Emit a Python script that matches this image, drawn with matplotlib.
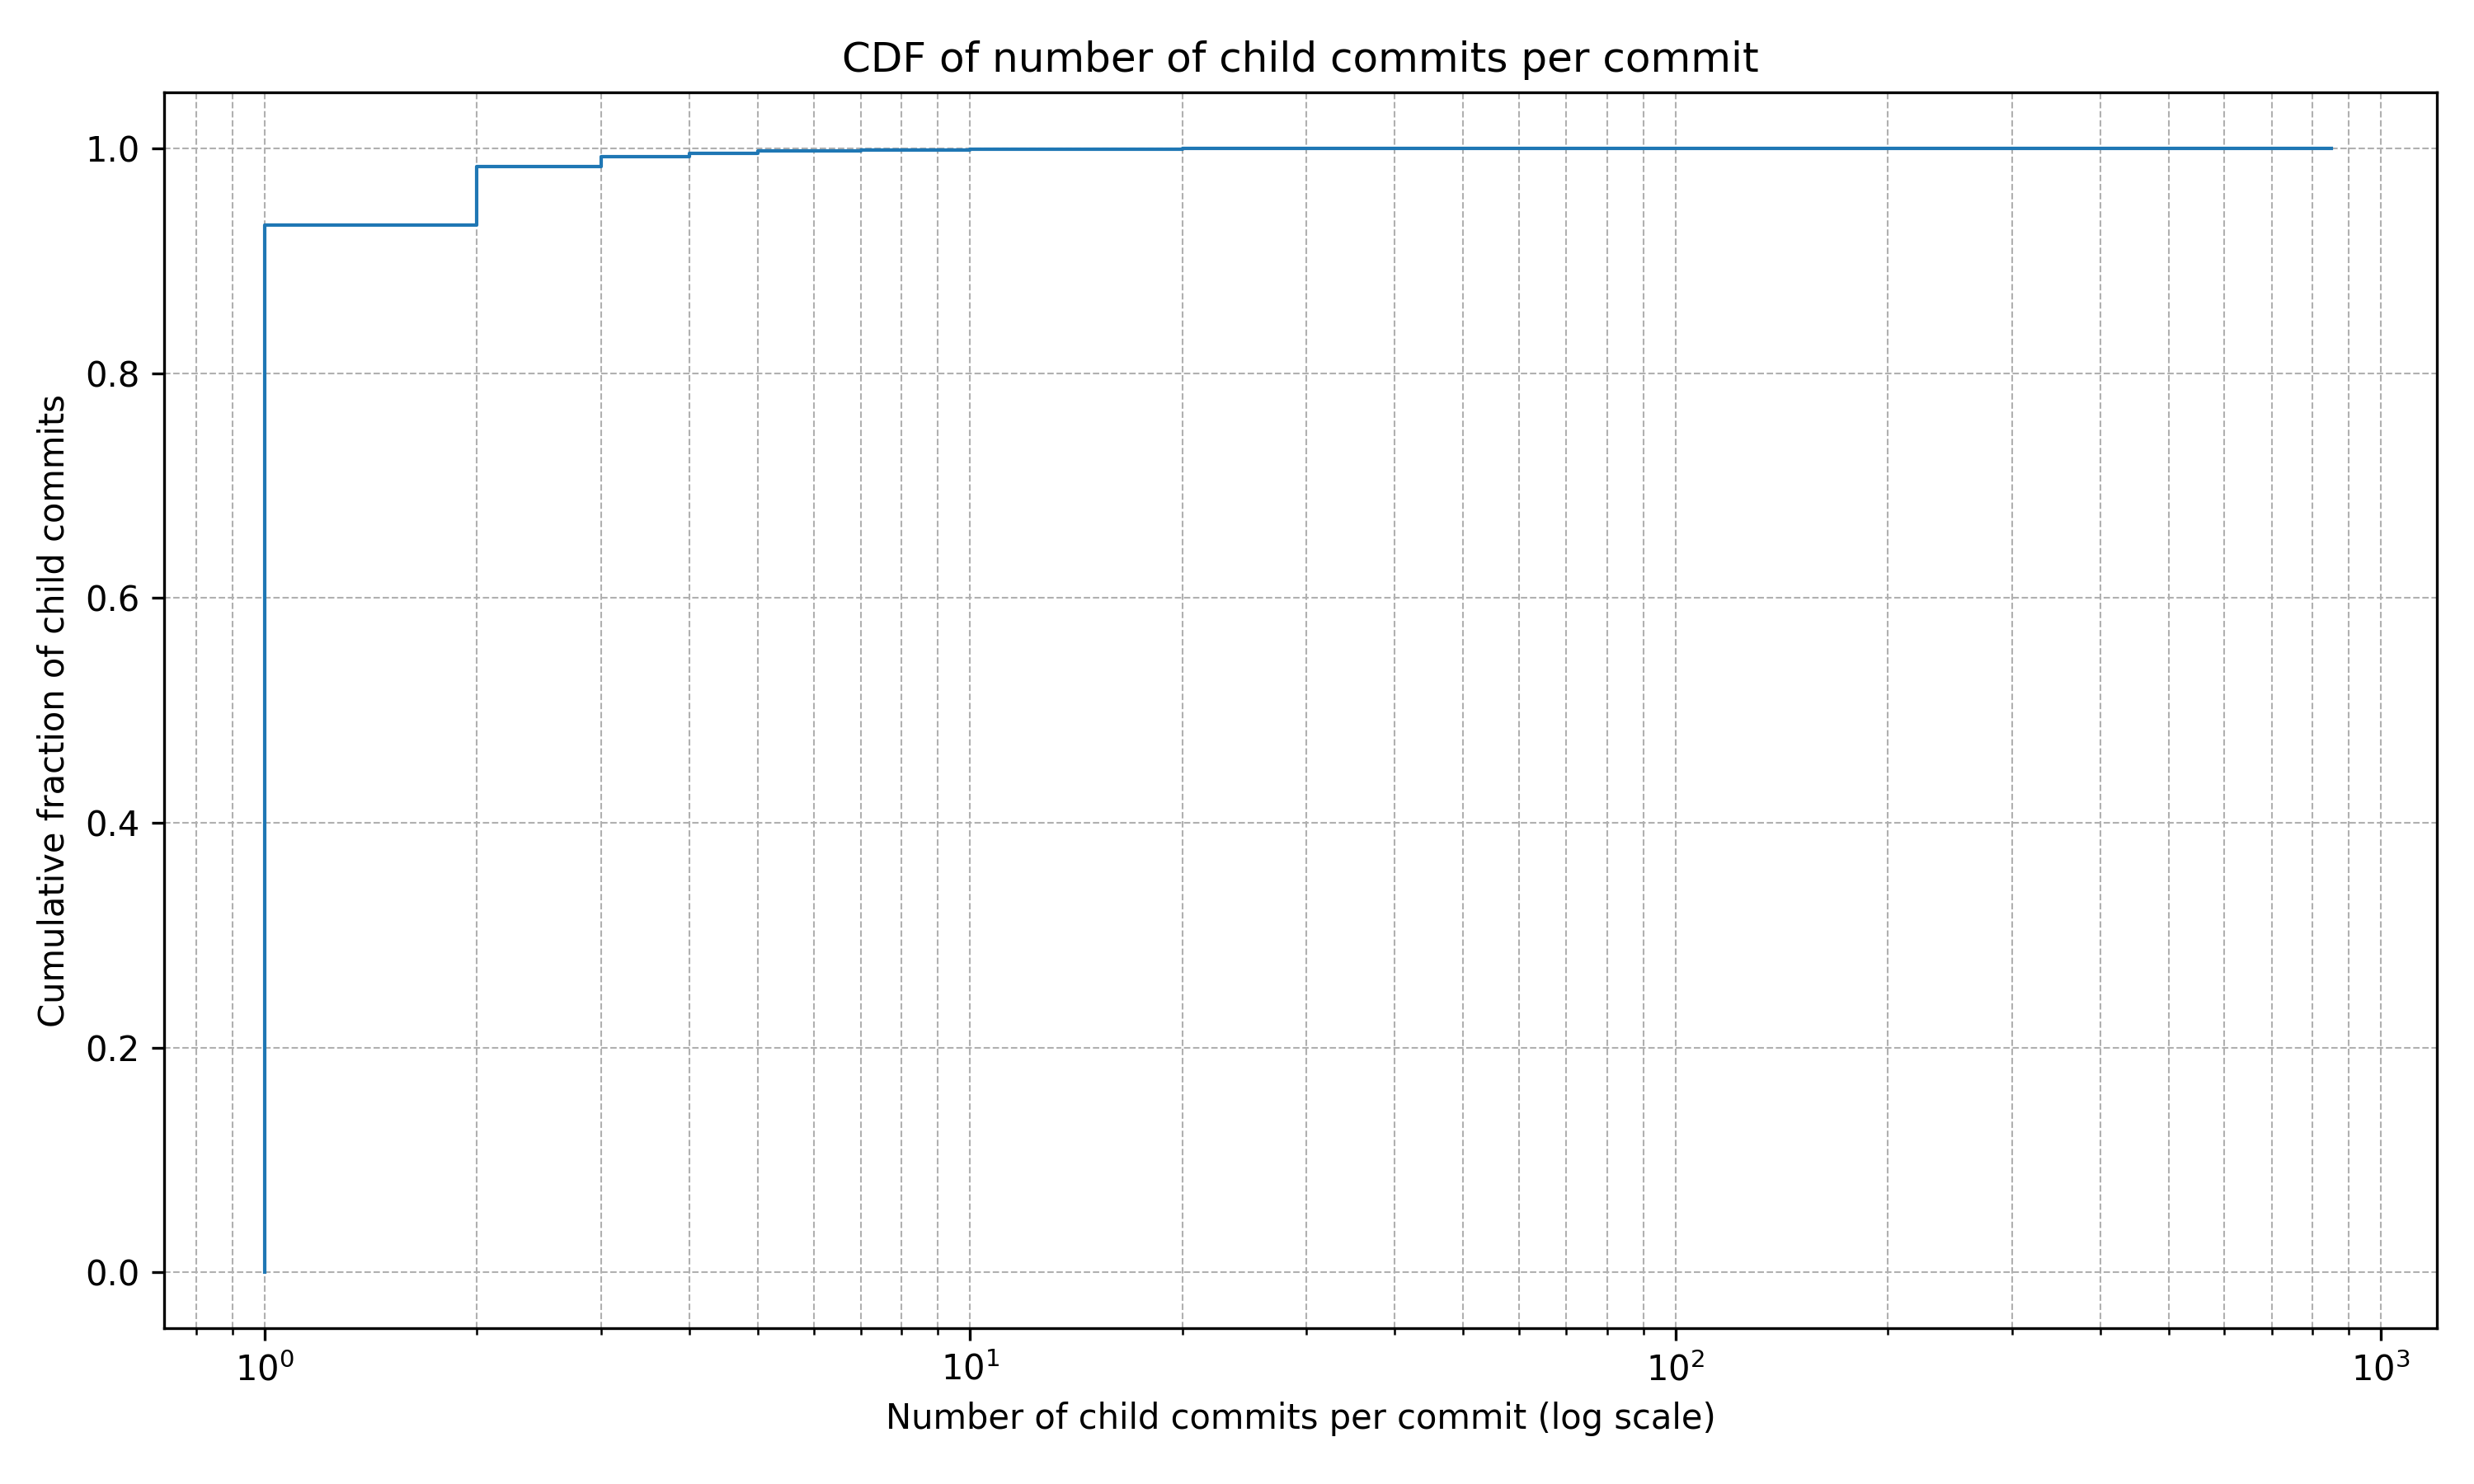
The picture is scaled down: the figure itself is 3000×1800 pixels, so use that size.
import numpy as np
import matplotlib.pyplot as plt

# child-commit counts and cumulative fraction
children = [1, 1, 2, 3, 4, 5, 7, 10, 20, 50, 850]
cdf = [0.0, 0.932, 0.984, 0.993, 0.996, 0.998, 0.999, 0.9995, 0.9998, 0.9999, 1.0]

fig, ax = plt.subplots(figsize=(10, 6))
ax.step(children, cdf, where='post', linewidth=1, color='#1f77b4')
ax.set_xscale('log')
ax.set_xlim(0.72, 1200)
ax.set_ylim(-0.05, 1.05)
ax.set_xlabel('Number of child commits per commit (log scale)')
ax.set_ylabel('Cumulative fraction of child commits')
ax.set_title('CDF of number of child commits per commit')
ax.grid(True, which='both', linestyle='--', linewidth=0.5)
fig.tight_layout()
fig.savefig('out.png', dpi=300)
